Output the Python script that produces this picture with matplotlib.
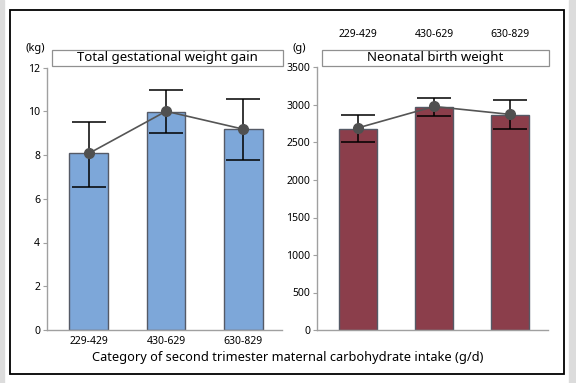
import matplotlib
matplotlib.use("Agg")
import matplotlib.pyplot as plt
from matplotlib.patches import Rectangle

plt.rcParams['font.family'] = ['Noto Sans', 'DejaVu Sans']

categories = ["229-429", "430-629", "630-829"]
gwg_bar = [8.07, 9.97, 9.17]
gwg_mean = [8.07, 10.0, 9.18]
gwg_lo = [6.56, 9.02, 7.76]
gwg_hi = [9.52, 10.95, 10.56]

bw_bar = [2685, 2970, 2865]
bw_mean = [2695, 2980, 2875]
bw_lo = [2510, 2848, 2674]
bw_hi = [2860, 3087, 3061]

W, H = 576, 383
fig = plt.figure(figsize=(W / 100, H / 100), dpi=100)

def fx(px):
    return px / W

def fy(py):
    return 1 - py / H

# outer decorations
fig.patches.append(Rectangle((0, 0), fx(4), 1, transform=fig.transFigure, color='#dcdcdc', zorder=0))
fig.patches.append(Rectangle((fx(569), 0), fx(7), 1, transform=fig.transFigure, color='#dcdcdc', zorder=0))
fig.patches.append(Rectangle((fx(10), fy(374)), fx(554), fy(10) - fy(374), transform=fig.transFigure,
                             fill=False, edgecolor='black', linewidth=1.3, zorder=5))

def panel(left, right, bars, means, lo, hi, color, ymax, yticks, top_labels, title, unit, unit_x):
    ax = fig.add_axes([fx(left), fy(330), fx(right - left), fy(67.5) - fy(330)])
    x = list(range(len(categories)))
    ax.bar(x, bars, width=0.5, color=color, edgecolor='#555a66', linewidth=1.0, zorder=2)
    yerr = [[m - l for m, l in zip(means, lo)], [h - m for m, h in zip(means, hi)]]
    ax.errorbar(x, means, yerr=yerr, fmt='none', ecolor='black', elinewidth=1.1, capsize=12.5, capthick=1.1, zorder=3)
    ax.plot(x, means, color='#555555', linewidth=1.2, marker='o', markersize=7,
            markerfacecolor='#505050', markeredgecolor='#505050', zorder=4)
    ax.set_xlim(-0.54, 2.5)
    ax.set_ylim(0, ymax)
    ax.set_yticks(yticks)
    ax.set_xticks(x)
    for s in ['top', 'right']:
        ax.spines[s].set_visible(False)
    for s in ['left', 'bottom']:
        ax.spines[s].set_color('#a0a0a0')
        ax.spines[s].set_linewidth(1.0)
    ax.tick_params(axis='y', length=3, color='#a0a0a0', labelsize=7.5, pad=2)
    if top_labels:
        ax.xaxis.set_ticks_position('none')
        ax.tick_params(axis='x', labeltop=True, labelbottom=False, length=0, labelsize=7.5, pad=20)
    else:
        ax.tick_params(axis='x', length=0, labelsize=7.5, pad=4)
    ax.set_xticklabels(categories)
    # title box
    fig.patches.append(Rectangle((fx(left + 5), fy(66)), fx(right - left - 4), fy(50) - fy(66),
                                 transform=fig.transFigure, facecolor='white', edgecolor='#909090', linewidth=0.9, zorder=3))
    fig.text(fx((left + 5 + right + 1) / 2), fy(58), title, ha='center', va='center', fontsize=9.5, zorder=4)
    fig.text(fx(unit_x), fy(48), unit, ha='center', va='center', fontsize=8)
    return ax

panel(47, 282, gwg_bar, gwg_mean, gwg_lo, gwg_hi, '#7da7d9', 12, range(0, 13, 2), False,
      'Total gestational weight gain', '(kg)', 35)
panel(317, 548, bw_bar, bw_mean, bw_lo, bw_hi, '#8b3e4b', 3500, range(0, 3501, 500), True,
      'Neonatal birth weight', '(g)', 299)

fig.text(fx(288), fy(358), 'Category of second trimester maternal carbohydrate intake (g/d)',
         ha='center', va='center', fontsize=9.2)

fig.savefig('out.png', dpi=100)
